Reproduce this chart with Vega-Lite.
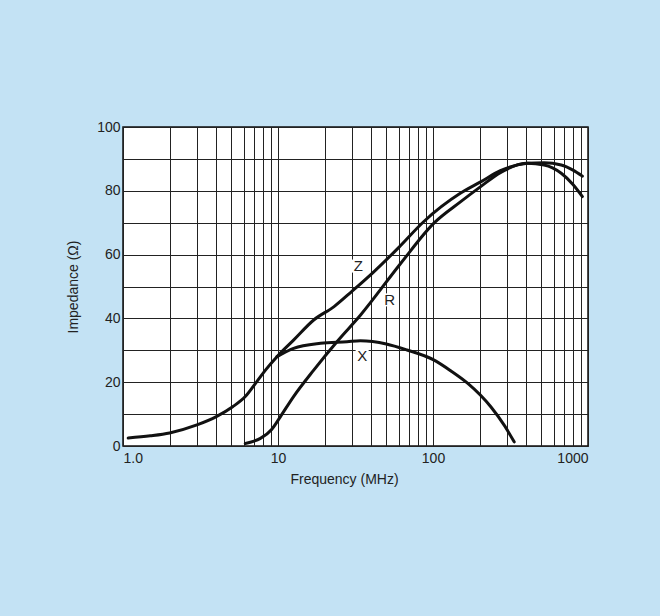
{
  "$schema": "https://vega.github.io/schema/vega-lite/v6.json",
  "width": 465,
  "height": 319,
  "autosize": {"type": "none"},
  "padding": {"left": 123, "top": 127, "right": 72, "bottom": 170},
  "background": "#c3e2f4",
  "config": {
    "view": {"fill": "white", "stroke": "#111111", "strokeWidth": 1.5},
    "font": "Liberation Sans",
    "axis": {
      "labelFont": "Liberation Sans",
      "titleFont": "Liberation Sans",
      "labelFontSize": 14,
      "titleFontSize": 14,
      "titleFontWeight": "normal",
      "labelColor": "#222222",
      "titleColor": "#222222",
      "gridColor": "#222222",
      "gridOpacity": 1,
      "gridWidth": 1,
      "ticks": false,
      "domain": false,
      "labelOverlap": false
    }
  },
  "datasets": {
    "curves": [
      {"series": "Z", "f": 1.08, "v": 2.5},
      {"series": "Z", "f": 1.5, "v": 3.2},
      {"series": "Z", "f": 2.0, "v": 4.1},
      {"series": "Z", "f": 3.0, "v": 6.6},
      {"series": "Z", "f": 4.0, "v": 9.2},
      {"series": "Z", "f": 5.1, "v": 12.3},
      {"series": "Z", "f": 6.15, "v": 15.5},
      {"series": "Z", "f": 7.3, "v": 20.2},
      {"series": "Z", "f": 8.3, "v": 23.8},
      {"series": "Z", "f": 9.85, "v": 28.0},
      {"series": "Z", "f": 12.6, "v": 33.2},
      {"series": "Z", "f": 17, "v": 39.5},
      {"series": "Z", "f": 23, "v": 43.7},
      {"series": "Z", "f": 30, "v": 48.5},
      {"series": "Z", "f": 41.5, "v": 54.6},
      {"series": "Z", "f": 60, "v": 62.2},
      {"series": "Z", "f": 87, "v": 70.3},
      {"series": "Z", "f": 150, "v": 79.2},
      {"series": "Z", "f": 203, "v": 82.8},
      {"series": "Z", "f": 272, "v": 86.3},
      {"series": "Z", "f": 406, "v": 88.6},
      {"series": "Z", "f": 521, "v": 88.8},
      {"series": "Z", "f": 672, "v": 88.1},
      {"series": "Z", "f": 800, "v": 86.5},
      {"series": "Z", "f": 920, "v": 84.6},
      {"series": "R", "f": 6.15, "v": 0.8},
      {"series": "R", "f": 7.0, "v": 1.5},
      {"series": "R", "f": 7.7, "v": 2.4},
      {"series": "R", "f": 9.1, "v": 5.2},
      {"series": "R", "f": 10.3, "v": 9.0},
      {"series": "R", "f": 12.6, "v": 15.5},
      {"series": "R", "f": 17, "v": 23.8},
      {"series": "R", "f": 24, "v": 32.7},
      {"series": "R", "f": 34, "v": 41.0},
      {"series": "R", "f": 62, "v": 57.3},
      {"series": "R", "f": 101, "v": 69.8},
      {"series": "R", "f": 151, "v": 76.6},
      {"series": "R", "f": 203, "v": 81.3},
      {"series": "R", "f": 272, "v": 85.7},
      {"series": "R", "f": 406, "v": 88.6},
      {"series": "R", "f": 521, "v": 88.1},
      {"series": "R", "f": 672, "v": 85.5},
      {"series": "R", "f": 800, "v": 82.0},
      {"series": "R", "f": 920, "v": 78.2},
      {"series": "X", "f": 9.85, "v": 28.0},
      {"series": "X", "f": 12.6, "v": 30.6},
      {"series": "X", "f": 18.8, "v": 32.2},
      {"series": "X", "f": 27.9, "v": 32.7},
      {"series": "X", "f": 34, "v": 33.0},
      {"series": "X", "f": 50, "v": 32.0},
      {"series": "X", "f": 68, "v": 30.1},
      {"series": "X", "f": 101, "v": 27.0},
      {"series": "X", "f": 130, "v": 23.6},
      {"series": "X", "f": 167, "v": 19.7},
      {"series": "X", "f": 236, "v": 12.3},
      {"series": "X", "f": 290, "v": 6.3},
      {"series": "X", "f": 334, "v": 1.3}
    ],
    "labels": [
      {"label": "Z", "f": 33, "v": 56.4},
      {"label": "R", "f": 52.6, "v": 45.8},
      {"label": "X", "f": 34.9, "v": 28.2}
    ]
  },
  "encoding": {
    "x": {
      "field": "f",
      "type": "quantitative",
      "scale": {"type": "log", "domain": [1, 1000], "nice": false},
      "axis": {
        "title": "Frequency (MHz)",
        "values": [1, 2, 3, 4, 5, 6, 7, 8, 9, 10, 20, 30, 40, 50, 60, 70, 80, 90, 100, 200, 300, 400, 500, 600, 700, 800, 900, 1000],
        "grid": true,
        "labelExpr": "datum.value == 1 ? '1.0' : datum.value == 10 ? '10' : datum.value == 100 ? '100' : datum.value == 1000 ? '1000' : ''",
        "labelFlush": true,
        "labelPadding": 5,
        "titleX": 221,
        "titleY": 37,
        "titleAlign": "center",
        "titleBaseline": "alphabetic"
      }
    },
    "y": {
      "field": "v",
      "type": "quantitative",
      "scale": {"domain": [0, 100], "nice": false},
      "axis": {
        "title": "Impedance (Ω)",
        "values": [0, 10, 20, 30, 40, 50, 60, 70, 80, 90, 100],
        "grid": true,
        "labelExpr": "datum.value % 20 == 0 ? datum.label : ''",
        "labelPadding": 3,
        "titleX": -46,
        "titleY": 159.5,
        "titleAngle": -90,
        "titleAlign": "center",
        "titleBaseline": "alphabetic"
      }
    }
  },
  "layer": [
    {
      "data": {"name": "curves"},
      "mark": {"type": "line", "color": "#111111", "strokeWidth": 3, "strokeCap": "round", "interpolate": "monotone"},
      "encoding": {"detail": {"field": "series", "type": "nominal"}}
    },
    {
      "data": {"name": "labels"},
      "mark": {"type": "point", "shape": "square", "filled": true, "color": "white", "opacity": 1, "size": 170},
      "encoding": {}
    },
    {
      "data": {"name": "labels"},
      "mark": {"type": "text", "fontSize": 15, "font": "Liberation Sans", "color": "#222222", "baseline": "middle", "align": "center"},
      "encoding": {"text": {"field": "label", "type": "nominal"}}
    }
  ]
}
